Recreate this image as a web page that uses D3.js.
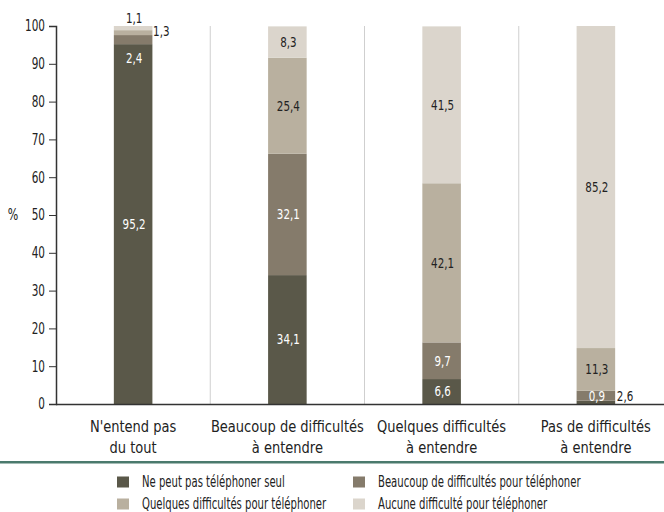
<!DOCTYPE html>
<html>
<head>
<meta charset="utf-8">
<title></title>
<script src="https://cdn.jsdelivr.net/npm/d3@7/dist/d3.min.js"></script>
<style>
  body { margin: 0; background: #fff; }
  svg text { font-family: "DejaVu Sans", sans-serif; }
</style>
</head>
<body>
<script>
const width = 664
const height = 512

// data
const categories = [
  ["N'entend pas", "du tout"],
  ["Beaucoup de difficultés", "à entendre"],
  ["Quelques difficultés", "à entendre"],
  ["Pas de difficultés", "à entendre"]
]
const seriesNames = [
  "Ne peut pas téléphoner seul",
  "Beaucoup de difficultés pour téléphoner",
  "Quelques difficultés pour téléphoner",
  "Aucune difficulté pour téléphoner"
]
const neSeulValues = [95.2, 34.1, 6.6, 0.9]
const beaucoupValues = [2.4, 32.1, 9.7, 2.6]
const quelquesValues = [1.3, 25.4, 42.1, 11.3]
const aucuneValues = [1.1, 8.3, 41.5, 85.2]
const yTickValues = [0, 10, 20, 30, 40, 50, 60, 70, 80, 90, 100]

const colors = ["#5a5849", "#857b6b", "#b9b09f", "#dbd5cc"]
const labelColors = ["#fff", "#fff", "#222", "#222"]

const series = [neSeulValues, beaucoupValues, quelquesValues, aucuneValues]
const keys = categories.map(c => c.join(" "))

const svg = d3.select('body')
  .append('svg')
  .attr('width', width)
  .attr('height', height)

const x = d3.scaleBand()
  .domain(keys)
  .range([56, 673])
  .paddingInner(0.75)
  .paddingOuter(0.375)

const y = d3.scaleLinear()
  .domain([0, 100])
  .range([404, 26])

// la police d'origine est tres etroite : facteur de resserrement mesure sur un texte temoin
const probe = svg.append('text').attr('x', -1000).attr('y', -1000)
function squeezeFor(sample, size, target) {
  probe.style('font-size', size + 'px').text(sample)
  return target / probe.node().getComputedTextLength()
}
function narrow(k) {
  return sel => sel.each(function () {
    const t = d3.select(this)
    const ax = +t.attr('x') || 0
    t.attr('transform', `translate(${ax},0) scale(${k},1) translate(${-ax},0)`)
  })
}
const kTick = squeezeFor('100', 15, 20)
const kVal = squeezeFor('25,4', 14, 23)
const kCat = squeezeFor('Beaucoup de difficultés', 16.5, 153)
const kLeg = squeezeFor('Ne peut pas téléphoner seul', 16, 143)
probe.remove()

// separateurs verticaux
svg.append('g')
  .selectAll('line')
  .data(keys.slice(0, -1))
  .join('line')
  .attr('x1', d => x(d) + x.bandwidth() + (x.step() - x.bandwidth()) / 2)
  .attr('x2', d => x(d) + x.bandwidth() + (x.step() - x.bandwidth()) / 2)
  .attr('y1', y(100))
  .attr('y2', y(0))
  .attr('stroke', '#cfcfcf')
  .attr('stroke-width', 1)

// empilement
const rows = keys.map((k, i) => {
  const r = { key: k }
  series.forEach((s, j) => { r[j] = s[i] })
  return r
})
const stacked = d3.stack().keys([0, 1, 2, 3])(rows)

svg.append('g')
  .selectAll('g')
  .data(stacked)
  .join('g')
  .attr('fill', (d, i) => colors[i])
  .selectAll('rect')
  .data(d => d)
  .join('rect')
  .attr('x', d => x(d.data.key))
  .attr('y', d => y(d[1]))
  .attr('width', x.bandwidth())
  .attr('height', d => y(d[0]) - y(d[1]))

// y axis
const yAxis = svg.append('g')
  .attr('transform', 'translate(56,0)')
  .call(d3.axisLeft(y).tickValues(yTickValues).tickSize(7).tickPadding(4))
yAxis.select('.domain').attr('stroke', '#333').attr('stroke-width', 1.5)
yAxis.selectAll('.tick line').attr('stroke', '#333')
yAxis.selectAll('.tick text')
  .attr('fill', '#222')
  .attr('font-family', null)
  .attr('font-size', null)
  .style('font-size', '15px')
  .call(narrow(kTick))

svg.append('text')
  .attr('x', 13)
  .attr('y', y(50))
  .attr('dy', '0.35em')
  .attr('text-anchor', 'middle')
  .attr('fill', '#222')
  .style('font-size', '15px')
  .text('%')
  .call(narrow(kVal))

// x axis line
svg.append('line')
  .attr('x1', 56)
  .attr('x2', width)
  .attr('y1', y(0) + 0.5)
  .attr('y2', y(0) + 0.5)
  .attr('stroke', '#333')
  .attr('stroke-width', 1.5)

// x labels
const xl = svg.append('g')
  .selectAll('text')
  .data(categories)
  .join('text')
  .attr('x', (d, i) => x(keys[i]) + x.bandwidth() / 2)
  .attr('y', 426)
  .attr('text-anchor', 'middle')
  .attr('fill', '#222')
  .style('font-size', '16.5px')
xl.selectAll('tspan')
  .data(d => d)
  .join('tspan')
  .attr('x', function () { return this.parentNode.getAttribute('x') })
  .attr('dy', (d, i) => i === 0 ? '0.35em' : 21)
  .text(d => d)
xl.call(narrow(kCat))

// valeurs
const fmt = v => String(v).replace('.', ',')
// placement des petites valeurs (hors segment)
const smallPlace = {
  "0-1": { dx: 1, yv: 91.5, anchor: 'middle', color: '#fff' },
  "0-2": { dx: 20, yv: 98.7, anchor: 'start', color: '#222' },
  "0-3": { dx: 1, yv: 102.1, anchor: 'middle', color: '#222' },
  "3-0": { dx: 1, yv: 2.1, anchor: 'middle', color: '#fff' },
  "3-1": { dx: 21, yv: 2.1, anchor: 'start', color: '#222' }
}
const labels = []
stacked.forEach((s, j) => {
  s.forEach((d, i) => {
    const cx = x(keys[i]) + x.bandwidth() / 2
    const p = smallPlace[i + '-' + j]
    if (p) {
      labels.push({ x: cx + p.dx, y: y(p.yv), anchor: p.anchor, color: p.color, text: fmt(d.data[j]) })
    } else {
      labels.push({ x: cx + 1, y: y((d[0] + d[1]) / 2), anchor: 'middle', color: labelColors[j], text: fmt(d.data[j]) })
    }
  })
})
svg.append('g')
  .selectAll('text')
  .data(labels)
  .join('text')
  .attr('x', d => d.x)
  .attr('y', d => d.y)
  .attr('dy', '0.35em')
  .attr('text-anchor', d => d.anchor)
  .attr('fill', d => d.color)
  .style('font-size', '14px')
  .text(d => d.text)
  .call(narrow(kVal))

// filet vert
svg.append('rect')
  .attr('x', 0)
  .attr('y', 461)
  .attr('width', width)
  .attr('height', 2.5)
  .attr('fill', '#4b7a6d')

// legende
const legPos = [[117, 482], [353, 482], [117, 504], [353, 504]]
const leg = svg.append('g')
  .selectAll('g')
  .data(seriesNames)
  .join('g')
  .attr('transform', (d, i) => `translate(${legPos[i][0]},${legPos[i][1]})`)
leg.append('rect')
  .attr('x', 0)
  .attr('y', -5.5)
  .attr('width', 12)
  .attr('height', 11)
  .attr('fill', (d, i) => colors[i])
leg.append('text')
  .attr('x', 25)
  .attr('dy', '0.35em')
  .attr('fill', '#222')
  .style('font-size', '15px')
  .text(d => d)
  .call(narrow(kLeg * 16 / 15))
</script>
</body>
</html>
